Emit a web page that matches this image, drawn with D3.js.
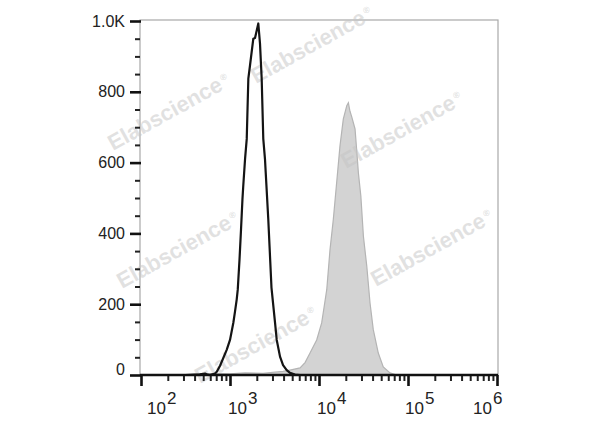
<!DOCTYPE html>
<html>
<head>
<meta charset="utf-8">
<script src="https://cdn.jsdelivr.net/npm/d3@7"></script>
<style>
  html, body { margin: 0; padding: 0; background: #fff; }
  svg { display: block; }
</style>
</head>
<body>
<svg id="chart" width="600" height="427"></svg>
<script>
// ---------- data ----------
// Control (unstained / isotype) histogram: fluorescence intensity, event count
const controlX = [100, 316, 457, 525, 562, 596, 678, 710, 773, 918, 1000, 1089, 1138, 1189, 1222, 1279, 1330, 1380, 1409, 1476, 1542, 1563, 1607, 1679, 1828, 1910, 2080, 2173, 2270, 2366, 2472, 2518, 2692, 2924, 3206, 3350, 3648, 3945, 4335, 4721, 5370, 6124, 1000000];
const controlY = [0, 0, 2, 4, 1, 0, 4, 9, 26, 71, 99, 147, 179, 213, 241, 326, 411, 496, 534, 610, 667, 723, 837, 875, 950, 952, 993, 936, 837, 667, 610, 573, 440, 247, 148, 99, 52, 28, 14, 6, 1, 0, 0];

// Stained sample histogram (filled grey)
const stainedX = [460, 678, 1000, 1476, 2350, 3206, 3945, 4721, 6124, 6966, 7925, 9419, 10715, 11376, 12218, 13305, 14488, 15812, 17219, 18750, 20512, 21380, 22284, 23335, 25410, 26424, 27733, 29512, 31550, 34435, 37411, 40738, 46345, 52723, 62806, 74645];
const stainedY = [2, 4, 3, 6, 5, 8, 10, 14, 20, 35, 62, 99, 147, 190, 241, 355, 440, 545, 648, 723, 761, 769, 745, 729, 695, 640, 570, 506, 392, 307, 204, 128, 62, 23, 6, 0];

// Axis ticks
const yMajorTicks = [0, 200, 400, 600, 800, 1000];
const yTickLabels = ["0", "200", "400", "600", "800", "1.0K"];
const xMajorTicks = [1e2, 1e3, 1e4, 1e5, 1e6];
const xTickExponents = ["2", "3", "4", "5", "6"];
const xLabelOffsets = [6, -2, -2, -3, -24];

// Watermark anchor points (pixel positions of the repeated logo text)
const watermarkText = "Elabscience";
const watermarkPos = [[113, 151], [256, 84], [346, 169], [122, 289], [376, 287], [200, 384]];

// ---------- layout ----------
const svg = d3.select("#chart");
const pLeft = 140, pRight = 498, pTop = 20, pBottom = 375;

const x = d3.scaleLog().domain([1e2, 1e6]).range([141, 497]);
const y = d3.scaleLinear().domain([0, 1000]).range([pBottom, 21]);

const FONT = "'Liberation Sans', Arial, Helvetica, sans-serif";

// Frame (grey)
svg.append("rect")
  .attr("x", pLeft).attr("y", pTop)
  .attr("width", pRight - pLeft).attr("height", pBottom - pTop)
  .attr("fill", "#fff")
  .attr("stroke", "#a8a8a8").attr("stroke-width", 1.2);

// Stained histogram (filled)
const stained = stainedX.map((v, i) => [v, stainedY[i]]);
const area = d3.area()
  .x(d => x(d[0]))
  .y0(y(0))
  .y1(d => y(d[1]));
svg.append("path")
  .datum(stained)
  .attr("d", area)
  .attr("fill", "#d3d3d3")
  .attr("stroke", "#b4b4b4")
  .attr("stroke-width", 1.2);

// Watermarks (over the grey fill, under the black line)
const wm = svg.append("g");
watermarkPos.forEach(p => {
  const t = wm.append("text")
    .attr("transform", `translate(${p[0]},${p[1]}) rotate(-29)`)
    .attr("font-family", FONT)
    .attr("font-weight", "bold")
    .attr("font-size", 22)
    .attr("fill", "#c4c4c4")
    .attr("fill-opacity", 0.5);
  t.append("tspan").text(watermarkText);
  t.append("tspan").attr("font-size", 9).attr("dy", -8).attr("dx", 2).text("®");
});

// Control histogram (black outline)
const control = controlX.map((v, i) => [v, controlY[i]]);
const line = d3.line()
  .x(d => x(d[0]))
  .y(d => y(d[1]));
svg.append("path")
  .datum(control)
  .attr("d", line)
  .attr("fill", "none")
  .attr("stroke", "#141414")
  .attr("stroke-width", 2.2)
  .attr("stroke-linejoin", "round");

// ---------- Y axis ----------
const yMinorTicks = d3.range(0, 1001, 50).filter(v => v % 200 !== 0);
const yMinor = svg.append("g")
  .attr("transform", `translate(${pLeft},0)`)
  .call(d3.axisLeft(y).tickValues(yMinorTicks).tickSize(5).tickFormat(""));
yMinor.select(".domain").remove();
yMinor.selectAll("line").attr("stroke", "#222").attr("stroke-width", 2);

const yMajor = svg.append("g")
  .attr("transform", `translate(${pLeft + 1},0)`)
  .call(d3.axisLeft(y).tickValues(yMajorTicks).tickSize(11).tickPadding(5)
    .tickFormat((d, i) => yTickLabels[i]));
yMajor.select(".domain").remove();
yMajor.selectAll("line").attr("stroke", "#111").attr("stroke-width", 2.6);
yMajor.selectAll("text")
  .attr("font-family", FONT)
  .attr("font-size", 16)
  .attr("fill", "#222")
  .attr("dy", (d) => d === 0 ? "-0.05em" : "0.32em");

// ---------- X axis ----------
const xMinorTicks = [];
[1e2, 1e3, 1e4, 1e5].forEach(dec => { for (let k = 2; k <= 9; k++) xMinorTicks.push(k * dec); });

const xMinor = svg.append("g")
  .attr("transform", `translate(0,${pBottom})`)
  .call(d3.axisBottom(x).tickValues(xMinorTicks).tickSize(6).tickFormat(""));
xMinor.select(".domain").remove();
xMinor.selectAll("line").attr("stroke", "#222").attr("stroke-width", 2);

const xMajor = svg.append("g")
  .attr("transform", `translate(0,${pBottom})`)
  .call(d3.axisBottom(x).tickValues(xMajorTicks).tickSize(11).tickFormat(""));
xMajor.select(".domain").remove();
xMajor.selectAll("line").attr("stroke", "#111").attr("stroke-width", 2.6);

// bottom axis line (thick black)
svg.append("line")
  .attr("x1", pLeft).attr("x2", pRight)
  .attr("y1", pBottom).attr("y2", pBottom)
  .attr("stroke", "#111").attr("stroke-width", 2.6);

// X tick labels: 10^n
const xl = svg.append("g");
xMajorTicks.forEach((v, i) => {
  const t = xl.append("text")
    .attr("x", x(v) + xLabelOffsets[i])
    .attr("y", 414)
    .attr("font-family", FONT)
    .attr("font-size", 17)
    .attr("fill", "#222");
  t.append("tspan").text("10");
  t.append("tspan").attr("dx", 1).attr("dy", -10).text(xTickExponents[i]);
});
</script>
</body>
</html>
